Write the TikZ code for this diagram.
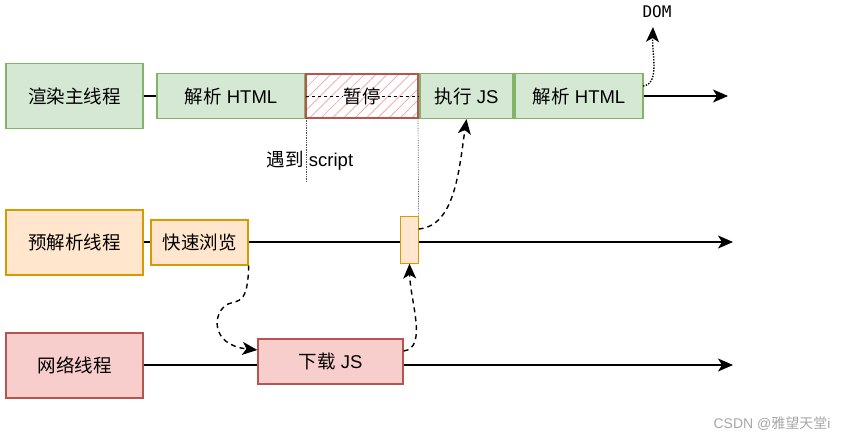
\documentclass[tikz,border=0pt]{standalone}
\usepackage{fontspec}
\setmainfont{Liberation Sans}
\newfontfamily\cjk{Noto Sans CJK SC}
\newfontfamily\dommono{DejaVu Sans Mono}
\usetikzlibrary{arrows.meta,patterns.meta}
\definecolor{gfill}{HTML}{D5E8D4}
\definecolor{gline}{HTML}{82B366}
\definecolor{ofill}{HTML}{FFE6CC}
\definecolor{oline}{HTML}{D79B00}
\definecolor{rfill}{HTML}{F8CECC}
\definecolor{rline}{HTML}{B85450}
\definecolor{hatch}{HTML}{F2A0A0}
\begin{document}
\begin{tikzpicture}[x=1pt,y=-1pt,
  every node/.style={font=\fontsize{18.5}{21}\selectfont},
  box/.style={draw, line width=1.3pt, inner sep=0pt},
  gbox/.style={box, fill=gfill, draw=gline},
  obox/.style={box, fill=ofill, draw=oline},
  rbox/.style={box, fill=rfill, draw=rline},
  tip/.style={-{Stealth[length=15pt,width=13pt,inset=4pt]}},
  tl/.style={line width=1.4pt,tip},
  dasharrow/.style={line width=1.4pt, dash pattern=on 5pt off 4pt,tip},
  dotarrow/.style={line width=1.4pt, dash pattern=on 1.4pt off 1.4pt,tip}
]
\useasboundingbox (0,0) rectangle (845,439);
% row 1
\node[gbox, minimum width=137pt, minimum height=65pt] (main) at (74.5,96) {\cjk 渲染主线程};
\node[gbox, minimum width=148pt, minimum height=45pt] (p1) at (231,96) {{\cjk 解析} HTML};
\draw[rline, line width=1.3pt, pattern={Lines[angle=45,distance=8pt,line width=0.7pt]}, pattern color=hatch] (306,74) rectangle (418,118);
\node[inner sep=1pt] (pause) at (362,96) {\cjk 暂停};
\draw[dashed, line width=0.9pt] (306,96) -- (pause.west);
\draw[dashed, line width=0.9pt] (pause.east) -- (418,96);
\coordinate (pausel) at (306,118);
\coordinate (pauser) at (418,118);
\node[gbox, minimum width=93pt, minimum height=45pt] (exec) at (466.5,96) {{\cjk 执行} JS};
\node[gbox, minimum width=128pt, minimum height=45pt] (p2) at (579,96) {{\cjk 解析} HTML};
\coordinate (end1) at (728,96);
\draw[line width=1.4pt] (main.east) -- (p1.west);
\draw[tl] (p2.east) -- (end1);
\node (dom) at (657,12) {\dommono\fontsize{16}{18}\selectfont DOM};
\draw[dotarrow] (643,86) .. controls (660,84) and (652,55) .. (653,27);
% encounter script
\node (enc) at (310,161) {{\cjk 遇到} script};
\coordinate (encl) at (306,182);
\draw[densely dotted, line width=0.7pt, black!70] (pausel) -- (encl);
% row 2
\node[obox, minimum width=137pt, minimum height=65pt] (pre) at (74.5,242.5) {\cjk 预解析线程};
\node[obox, minimum width=97pt, minimum height=45pt] (scan) at (199.5,242.5) {\cjk 快速浏览};
\node[obox, minimum width=17pt, minimum height=46pt] (sm) at (409.5,240) {};
\coordinate (end2) at (733,242);
\draw[line width=1.4pt] (pre.east |- 0,242) -- (scan.west |- 0,242);
\draw[tl] (scan.east |- 0,242) -- (end2);
\fill[ofill] (sm.south west) rectangle (sm.north east);
\draw[oline, line width=1.3pt] (sm.south west) rectangle (sm.north east);
\draw[densely dotted, line width=0.7pt, black!70] (pauser) -- (sm.north east);
% row 3
\node[rbox, minimum width=137pt, minimum height=65pt] (net) at (74.5,365.5) {\cjk 网络线程};
\node[rbox, minimum width=145pt, minimum height=45pt] (dl) at (330.5,361.5) {{\cjk 下载} JS};
\coordinate (end3) at (733,365);
\draw[line width=1.4pt] (net.east |- 0,365) -- (dl.west |- 0,365);
\draw[tl] (dl.east |- 0,365) -- (end3);
% dashed connectors
\draw[dasharrow] (scan.south east) .. controls (248,305) and (238,300) .. (228,304) .. controls (212,312) and (210,345) .. (dl.west |- 0,350);
\draw[dasharrow] (dl.east |- 0,351) .. controls (428,348) and (410,300) .. (sm.south);
\draw[dasharrow] (sm.east |- 0,229) .. controls (455,226) and (459,170) .. (exec.south);
% watermark
\node[text=black!35, font=\fontsize{14}{16}\selectfont] (wm) at (772,424) {CSDN @{\cjk 雅望天堂}i};
\end{tikzpicture}
\end{document}
